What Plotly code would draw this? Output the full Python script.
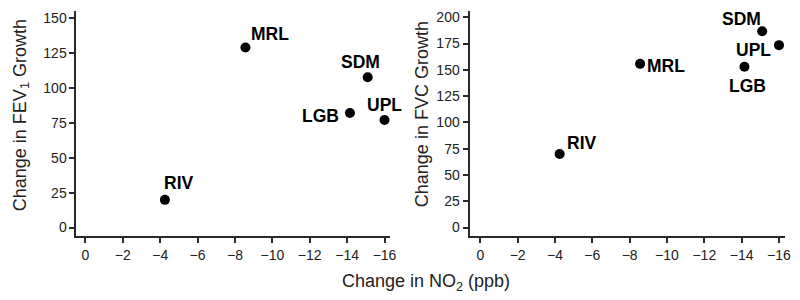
import plotly.graph_objects as go

sites = ["MRL", "SDM", "LGB", "UPL", "RIV"]
no2_change = [-8.56, -15.1, -14.15, -16.0, -4.25]
fev1_growth = [128.9, 107.6, 82.0, 77.0, 19.8]
fvc_growth = [155.7, 186.8, 153.0, 173.5, 70.0]
x_ticks = [0, -2, -4, -6, -8, -10, -12, -14, -16]
fev1_ticks = [0, 25, 50, 75, 100, 125, 150]
fvc_ticks = [0, 25, 50, 75, 100, 125, 150, 175, 200]

FONT = "Liberation Sans, Arial, Helvetica, sans-serif"
AX = "#2a2a2a"
W, H, OFF = 800, 300, 8  # page body margin offsets the figure


def px(x):
    return (x - OFF) / W


def py(y):
    return 1 - (y - OFF) / H


# label offsets (pixels) per site
left_off = {"MRL": (25, 13), "SDM": (-7, 15), "LGB": (-29, -3), "UPL": (0, 15), "RIV": (14, 17)}
right_off = {"MRL": (26, -2), "SDM": (-21, 12), "LGB": (3, -19), "UPL": (-25, -5), "RIV": (22, 11)}

fig = go.Figure()
fig.add_trace(go.Scatter(x=no2_change, y=fev1_growth, mode="markers",
                         marker=dict(color="black", size=10), xaxis="x", yaxis="y",
                         showlegend=False, cliponaxis=False))
fig.add_trace(go.Scatter(x=no2_change, y=fvc_growth, mode="markers",
                         marker=dict(color="black", size=10), xaxis="x2", yaxis="y2",
                         showlegend=False, cliponaxis=False))

ann = []
for s, xv, yv in zip(sites, no2_change, fev1_growth):
    dx, dy = left_off[s]
    ann.append(dict(x=xv, y=yv, xref="x", yref="y", text="<b>%s</b>" % s, showarrow=False,
                    xanchor="center", yanchor="middle",
                    xshift=dx, yshift=dy, font=dict(family=FONT, size=17.5, color="black")))
for s, xv, yv in zip(sites, no2_change, fvc_growth):
    dx, dy = right_off[s]
    ann.append(dict(x=xv, y=yv, xref="x2", yref="y2", text="<b>%s</b>" % s, showarrow=False,
                    xanchor="center", yanchor="middle",
                    xshift=dx, yshift=dy, font=dict(family=FONT, size=17.5, color="black")))

title_font = dict(family=FONT, size=18, color="#222")
ann.append(dict(x=px(21), y=py(114), xref="paper", yref="paper", xanchor="center", yanchor="middle",
                text="Change in FEV<sub>1</sub> Growth", textangle=-90, showarrow=False,
                font=title_font))
ann.append(dict(x=px(425), y=py(113), xref="paper", yref="paper", xanchor="center", yanchor="middle",
                text="Change in FVC Growth", textangle=-90, showarrow=False,
                font=title_font))
ann.append(dict(x=px(429), y=py(282), xref="paper", yref="paper", xanchor="center", yanchor="middle",
                text="Change in NO<sub>2</sub> (ppb)", showarrow=False,
                font=title_font))

common_x = dict(tickvals=x_ticks, showgrid=False, zeroline=False, showline=True,
                linecolor=AX, linewidth=2, ticks="outside", ticklen=5, tickwidth=1.5,
                tickcolor=AX, tickfont=dict(family=FONT, size=14, color="#222"),
                ticklabeloverflow="allow")
common_y = dict(showgrid=False, zeroline=False, showline=True, linecolor=AX, linewidth=2,
                ticks="outside", ticklen=5, tickwidth=1.5, tickcolor=AX,
                tickfont=dict(family=FONT, size=14, color="#222"),
                ticklabeloverflow="allow")

ydom = [py(236), py(9)]
fig.update_layout(
    width=W, height=H,
    margin=dict(l=0, r=0, t=0, b=0),
    paper_bgcolor="white", plot_bgcolor="white",
    xaxis=dict(**common_x, anchor="y", domain=[px(77), px(393)], range=[0.48, -16.3]),
    yaxis=dict(**common_y, domain=ydom, range=[-6.4, 155], tickvals=fev1_ticks, anchor="x"),
    xaxis2=dict(**common_x, anchor="y2", domain=[px(473), px(791)], range=[0.58, -16.33]),
    yaxis2=dict(**common_y, domain=ydom, range=[-8.5, 206], tickvals=fvc_ticks, anchor="x2"),
    annotations=ann,
)

fig.write_html("out.html")
